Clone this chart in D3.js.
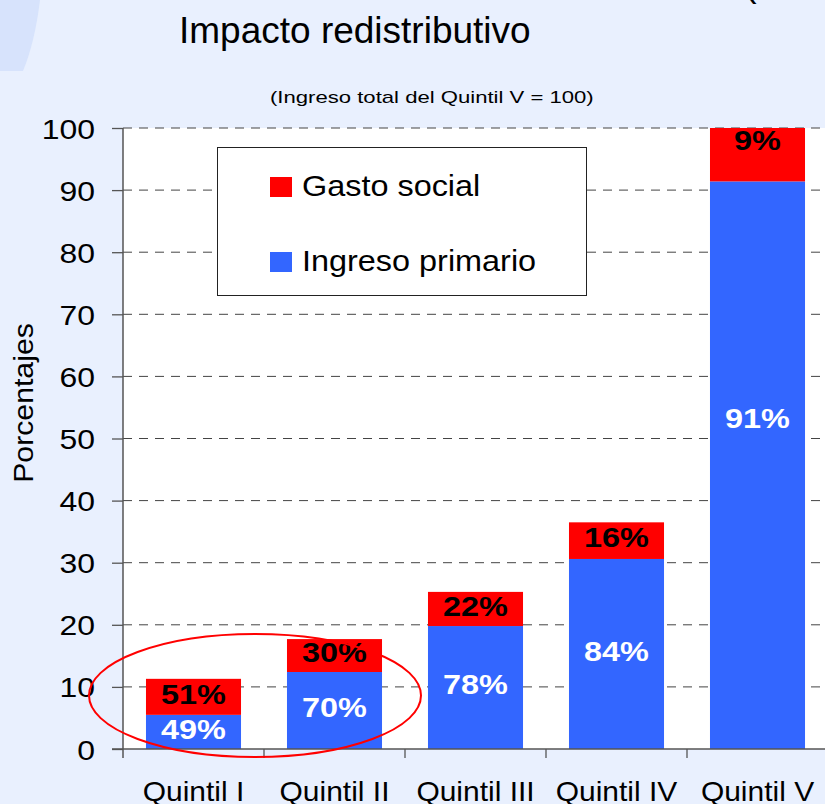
<!DOCTYPE html>
<html>
<head>
<meta charset="utf-8">
<script src="https://cdn.jsdelivr.net/npm/d3@7/dist/d3.min.js"></script>
<style>
  html, body { margin: 0; padding: 0; background: #E9F0FE; }
  svg { display: block; font-family: "Liberation Sans", Arial, sans-serif; }
</style>
</head>
<body>
<svg id="chart" width="825" height="804"></svg>
<script>
// ---- data ----
const categories = ["Quintil I", "Quintil II", "Quintil III", "Quintil IV", "Quintil V"];
const ingresoPrimario = [5.5, 12.4, 19.8, 30.6, 91.4];
const gastoSocial = [5.8, 5.3, 5.5, 5.9, 8.6];
const pctPrimario = ["49%", "70%", "78%", "84%", "91%"];
const pctSocial = ["51%", "30%", "22%", "16%", "9%"];
const yTickValues = [0, 10, 20, 30, 40, 50, 60, 70, 80, 90, 100];
const seriesNames = ["Gasto social", "Ingreso primario"];

// ---- layout / style ----
const colors = { social: "#FF0000", primario: "#3366FF" };
const plot = { left: 123, right: 828, top: 128, bottom: 749 };
// manual label nudges (px) as in the original slide
const labelShift = { "Quintil V": { social: -11, primario: -44 } };

const svg = d3.select("#chart");

function stretch(sel, f) {
  sel.each(function () {
    const w = this.getComputedTextLength();
    this.setAttribute("textLength", w * f);
    this.setAttribute("lengthAdjust", "spacingAndGlyphs");
  });
}

// background decoration
svg.append("rect").attr("width", 825).attr("height", 804).attr("fill", "#E9F0FE");
svg.append("path").attr("d", "M0,0 L40,0 Q35,42 23,71 L0,71 Z").attr("fill", "#D7E3FC");

// cut-off text at top right
svg.append("text").attr("x", 744).attr("y", -4).attr("font-size", 38).attr("fill", "#000").text("(");

// title + subtitle
svg.append("text").attr("x", 179).attr("y", 43).attr("font-size", 37).attr("fill", "#000")
  .text("Impacto redistributivo");
svg.append("text").attr("x", 270).attr("y", 103).attr("font-size", 17).attr("fill", "#000")
  .text("(Ingreso total del Quintil V = 100)").call(stretch, 1.3);

// scales
const x = d3.scaleBand().domain(categories).range([plot.left, plot.right])
  .paddingInner(0.326).paddingOuter(0.163);
const y = d3.scaleLinear().domain([0, 100]).range([plot.bottom, plot.top]);

// plot area
svg.append("rect").attr("x", plot.left).attr("y", plot.top)
  .attr("width", plot.right - plot.left).attr("height", plot.bottom - plot.top).attr("fill", "#fff");

// gridlines
svg.append("g").selectAll("line").data(yTickValues.filter(d => d > 0)).join("line")
  .attr("x1", plot.left).attr("x2", plot.right)
  .attr("y1", d => y(d)).attr("y2", d => y(d))
  .attr("stroke", "#444").attr("stroke-width", 1).attr("stroke-dasharray", "9,7");

// bars
const data = categories.map((c, i) => ({ c, p: ingresoPrimario[i], s: gastoSocial[i], pp: pctPrimario[i], ps: pctSocial[i] }));
const bars = svg.append("g");
bars.selectAll(".prim").data(data).join("rect")
  .attr("x", d => x(d.c)).attr("width", x.bandwidth())
  .attr("y", d => y(d.p)).attr("height", d => y(0) - y(d.p))
  .attr("fill", colors.primario);
bars.selectAll(".soc").data(data).join("rect")
  .attr("x", d => x(d.c)).attr("width", x.bandwidth())
  .attr("y", d => y(d.p + d.s)).attr("height", d => y(d.p) - y(d.p + d.s))
  .attr("fill", colors.social);

// value labels
const lfs = 27;
const labels = svg.append("g").attr("font-size", lfs).attr("font-weight", "bold").attr("text-anchor", "middle");
labels.selectAll(".lp").data(data).join("text")
  .attr("x", d => x(d.c) + x.bandwidth() / 2)
  .attr("y", d => (y(0) + y(d.p)) / 2 - 3 + (labelShift[d.c] ? labelShift[d.c].primario : 0) + 0.36 * lfs)
  .attr("fill", "#fff").text(d => d.pp).call(stretch, 1.2);
labels.selectAll(".ls").data(data).join("text")
  .attr("x", d => x(d.c) + x.bandwidth() / 2)
  .attr("y", d => (y(d.p) + y(d.p + d.s)) / 2 - 3 + (labelShift[d.c] ? labelShift[d.c].social : 0) + 0.36 * lfs)
  .attr("fill", "#000").text(d => d.ps).call(stretch, 1.2);

// y axis
const yAxis = svg.append("g").attr("transform", `translate(${plot.left},0)`)
  .call(d3.axisLeft(y).tickValues(yTickValues).tickSize(11).tickPadding(17).tickFormat(d3.format("d")));
yAxis.select(".domain").remove();
yAxis.selectAll(".tick line").attr("stroke", "#555").attr("stroke-width", 1.3);
yAxis.selectAll(".tick text").attr("font-size", 28).attr("fill", "#000")
  .attr("font-family", "Liberation Sans, Arial, sans-serif").attr("dy", null).attr("y", 0.36 * 28)
  .call(stretch, 1.14);
svg.append("line").attr("x1", plot.left).attr("x2", plot.left).attr("y1", plot.top).attr("y2", plot.bottom + 9)
  .attr("stroke", "#555").attr("stroke-width", 1.5);

// x axis
const xAxis = svg.append("g").attr("transform", `translate(0,${plot.bottom})`)
  .call(d3.axisBottom(x).tickSize(0).tickPadding(0));
xAxis.select(".domain").remove();
xAxis.selectAll(".tick text").attr("font-size", 28).attr("fill", "#000")
  .attr("font-family", "Liberation Sans, Arial, sans-serif").attr("dy", null).attr("y", 52)
  .call(stretch, 1.07);
svg.append("line").attr("x1", plot.left - 11).attr("x2", plot.right).attr("y1", plot.bottom).attr("y2", plot.bottom)
  .attr("stroke", "#555").attr("stroke-width", 1.6);
const boundaries = categories.map(c => x(c) - x.step() * x.paddingInner() / 2).slice(1);
svg.append("g").selectAll("line").data(boundaries).join("line")
  .attr("x1", d => d).attr("x2", d => d).attr("y1", plot.bottom).attr("y2", plot.bottom + 9)
  .attr("stroke", "#555").attr("stroke-width", 1.3);

// y axis title
svg.append("text").attr("transform", "translate(33,403) rotate(-90)").attr("text-anchor", "middle")
  .attr("font-size", 27).attr("fill", "#000").text("Porcentajes").call(stretch, 1.12);

// legend
const lg = svg.append("g");
lg.append("rect").attr("x", 217.5).attr("y", 147.5).attr("width", 369).attr("height", 148)
  .attr("fill", "#fff").attr("stroke", "#222").attr("stroke-width", 1);
const legendItems = [
  { name: seriesNames[0], color: colors.social, y: 196 },
  { name: seriesNames[1], color: colors.primario, y: 271 }
];
legendItems.forEach(it => {
  lg.append("rect").attr("x", 270).attr("y", it.y - 19).attr("width", 22).attr("height", 20).attr("fill", it.color);
  lg.append("text").attr("x", 302).attr("y", it.y).attr("font-size", 30).attr("fill", "#000").text(it.name)
    .call(stretch, 1.08);
});

// annotation ellipse
svg.append("ellipse").attr("cx", 255).attr("cy", 695.5).attr("rx", 166).attr("ry", 61.5)
  .attr("fill", "none").attr("stroke", "#FF0000").attr("stroke-width", 2);
</script>
</body>
</html>
